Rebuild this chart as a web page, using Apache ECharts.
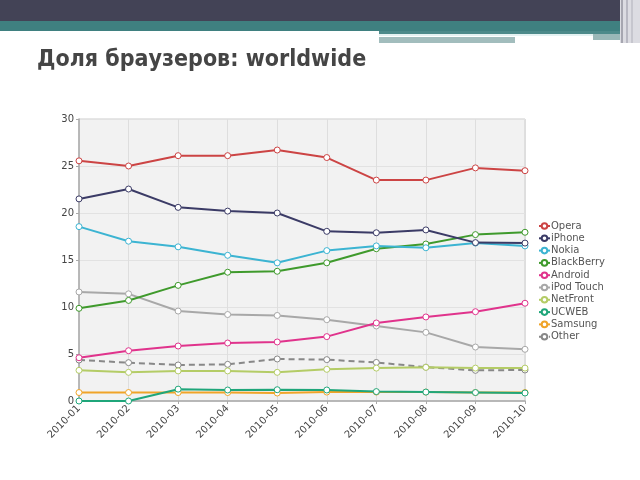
<!DOCTYPE html>
<html><head><meta charset="utf-8">
<script src="https://cdn.jsdelivr.net/npm/echarts@6/dist/echarts.min.js"></script>
<style>html,body{margin:0;padding:0;background:#fff}#c{width:640px;height:480px}</style>
</head><body><div id="c"></div>
<script>
var months = ['2010-01','2010-02','2010-03','2010-04','2010-05','2010-06','2010-07','2010-08','2010-09','2010-10'];
var yTicks = [0,5,10,15,20,25,30];
var opera     = [25.55,25.0,26.1,26.1,26.7,25.9,23.5,23.5,24.8,24.5];
var iphone    = [21.5,22.55,20.6,20.2,20.0,18.05,17.9,18.2,16.85,16.8];
var nokia     = [18.55,17.0,16.4,15.5,14.7,16.0,16.5,16.3,16.8,16.5];
var blackberry= [9.86,10.7,12.3,13.7,13.8,14.7,16.2,16.7,17.7,17.95];
var android   = [4.6,5.35,5.85,6.17,6.28,6.85,8.3,8.94,9.5,10.4];
var ipod      = [11.6,11.4,9.57,9.2,9.1,8.65,7.98,7.3,5.74,5.5];
var netfront  = [3.26,3.05,3.2,3.2,3.05,3.37,3.5,3.58,3.5,3.5];
var ucweb     = [0,0,1.26,1.17,1.2,1.17,1.0,0.95,0.9,0.85];
var samsung   = [0.9,0.9,0.9,0.9,0.85,0.95,0.95,0.95,0.9,0.9];
var other     = [4.36,4.08,3.83,3.9,4.47,4.4,4.1,3.6,3.26,3.3];

var names  = ['Opera','iPhone','Nokia','BlackBerry','Android','iPod Touch','NetFront','UCWEB','Samsung','Other'];
var values = [opera,iphone,nokia,blackberry,android,ipod,netfront,ucweb,samsung,other];
var colors = ['#cc4444','#3b3b66','#3cb4d2','#3f9a2c','#e0338c','#a8a8a8','#b4cc66','#1fa67a','#f0a428','#888888'];

var chart = echarts.init(document.getElementById('c'));
var series = names.map(function(n,i){
  return {
    name:n, type:'line', data:values[i], symbol:'circle', symbolSize:6,
    z: 10-i,
    itemStyle:{color:'#ffffff', borderColor:colors[i], borderWidth:1},
    lineStyle:{color:colors[i], width:2, type: n==='Other' ? [6,4] : 'solid'},
    animation:false
  };
});
chart.setOption({
  animation:false,
  backgroundColor:'#ffffff',
  graphic:[
    {type:'rect', shape:{x:0,y:0,width:620,height:21}, style:{fill:'#434356'}, silent:true},
    {type:'rect', shape:{x:0,y:21,width:625,height:10}, style:{fill:'#3f8080'}, silent:true},
    {type:'rect', shape:{x:379,y:31,width:241,height:3}, style:{fill:'#4d8a8a'}, silent:true},
    {type:'rect', shape:{x:379,y:34,width:214,height:2}, style:{fill:'#e4f2f2'}, silent:true},
    {type:'rect', shape:{x:379,y:37,width:136,height:6}, style:{fill:'#a2bdbd'}, silent:true},
    {type:'rect', shape:{x:593,y:34,width:27,height:6}, style:{fill:'#9ab8b8'}, silent:true},
    {type:'rect', shape:{x:620,y:0,width:20,height:43}, style:{fill:'#dcdce2'}, silent:true},
    {type:'rect', shape:{x:621,y:0,width:2,height:43}, style:{fill:'#a6a6b0'}, silent:true},
    {type:'rect', shape:{x:626,y:0,width:2,height:43}, style:{fill:'#b8b8c2'}, silent:true},
    {type:'rect', shape:{x:631,y:0,width:2,height:43}, style:{fill:'#c6c6ce'}, silent:true},
    {type:'text', left:37, top:49, style:{text:'Доля браузеров: worldwide', fill:'#454545', font:'bold 23px "DejaVu Sans Condensed", "DejaVu Sans", sans-serif'}}
  ],
  color:colors,
  grid:{left:79, right:115, top:119, bottom:79, show:true, backgroundColor:'#f2f2f2', borderColor:'#cccccc', borderWidth:1},
  legend:{
    orient:'vertical', left:533, top:216, itemWidth:11, itemHeight:7, itemGap:2.3,
    textStyle:{fontSize:10, color:'#555', fontFamily:'"DejaVu Sans", sans-serif', padding:[0,0,0,-4]},
    data:names
  },
  xAxis:{
    type:'category', data:months, boundaryGap:false,
    axisLine:{lineStyle:{color:'#aaaaaa', width:1.5}},
    axisTick:{show:true, alignWithLabel:true, length:3, lineStyle:{color:'#aaa'}},
    axisLabel:{rotate:45, fontSize:10, color:'#444', margin:6, fontFamily:'"DejaVu Sans", sans-serif'},
    splitLine:{show:true, lineStyle:{color:'#dedede'}}
  },
  yAxis:{
    type:'value', min:yTicks[0], max:yTicks[yTicks.length-1], interval:5,
    axisLine:{show:true, lineStyle:{color:'#aaaaaa', width:1.5}},
    axisTick:{show:true, length:3, lineStyle:{color:'#aaa'}},
    axisLabel:{fontSize:10, color:'#444', margin:5, fontFamily:'"DejaVu Sans", sans-serif'},
    splitLine:{show:true, lineStyle:{color:'#e2e2e2'}}
  },
  series:series
});
</script></body></html>
